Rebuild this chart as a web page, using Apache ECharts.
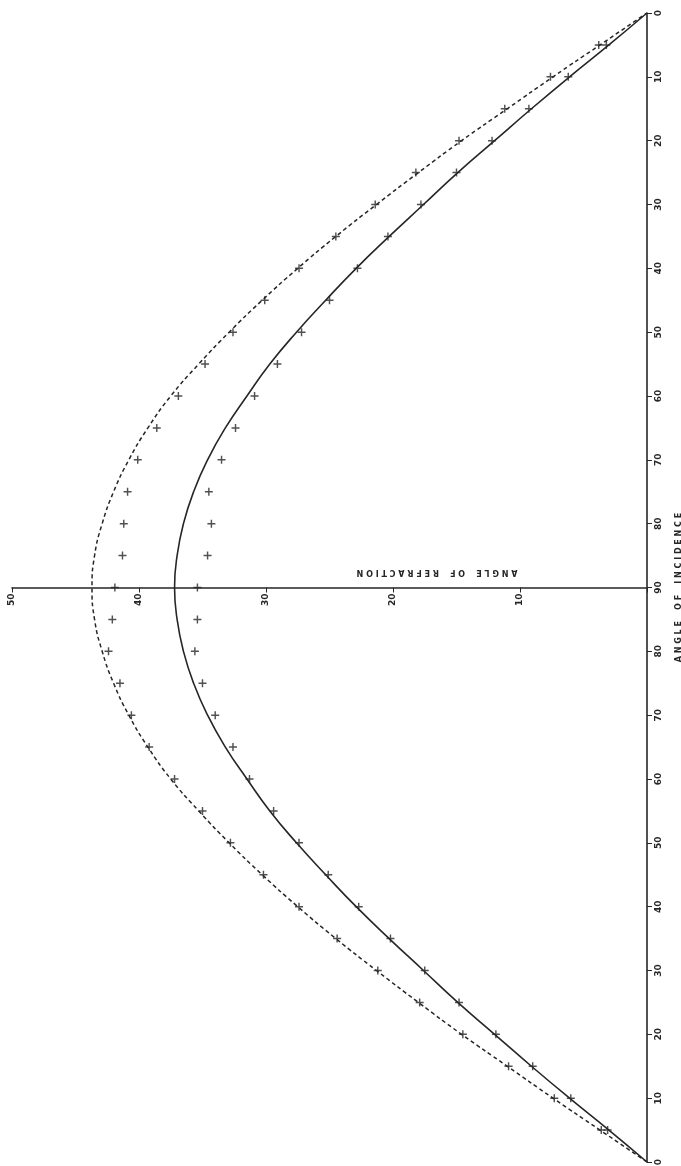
<!DOCTYPE html>
<html>
<head>
<meta charset="utf-8">
<script src="https://cdn.jsdelivr.net/npm/echarts@6/dist/echarts.min.js"></script>
<style>
  html, body { margin: 0; padding: 0; background: #fff; }
  #chart { width: 681px; height: 1166px; }
</style>
</head>
<body>
<div id="chart"></div>
<script>
// angle of incidence, every 5 degrees
const inc = [0, 5, 10, 15, 20, 25, 30, 35, 40, 45, 50, 55, 60, 65, 70, 75, 80, 85, 90];

// drawn curves (angle of refraction)
const solidCurve  = [0, 3.0, 6.1, 9.1, 12.0, 14.9, 17.6, 20.3, 22.9, 25.3, 27.6, 29.7, 31.5, 33.2, 34.6, 35.7, 36.5, 37.0, 37.2];
const dashedCurve = [0, 3.7, 7.4, 11.0, 14.6, 18.0, 21.3, 24.5, 27.5, 30.3, 32.9, 35.3, 37.5, 39.3, 40.8, 42.0, 42.9, 43.5, 43.7];

// observed points, upper half (read top) and lower half
const solidTop  = [null, 3.2, 6.2, 9.3, 12.2, 15.0, 17.8, 20.4, 22.8, 25.0, 27.2, 29.1, 30.9, 32.4, 33.5, 34.5, 34.3, 34.6, 35.4];
const solidBot  = [null, 3.1, 6.0, 9.0, 11.9, 14.8, 17.5, 20.2, 22.7, 25.1, 27.4, 29.4, 31.3, 32.6, 34.0, 35.0, 35.6, 35.4, null];
const dashedTop = [null, 3.8, 7.6, 11.2, 14.8, 18.2, 21.4, 24.5, 27.4, 30.1, 32.6, 34.8, 36.9, 38.6, 40.1, 40.9, 41.2, 41.3, 41.9];
const dashedBot = [null, 3.6, 7.3, 10.9, 14.5, 17.9, 21.2, 24.4, 27.4, 30.2, 32.8, 35.0, 37.2, 39.2, 40.6, 41.5, 42.4, 42.1, null];

const ink = '#262626';
const plus = 'path://M4.1,0h1.8v10h-1.8z M0,4.1h10v1.8h-10z';

// lower half runs 0..90 from the bottom, upper half runs 90..0 to the top
function curve(vals) {
  const lower = inc.map((a, k) => [vals[k], a - 90]);
  const upper = inc.slice(0, -1).map((a, k) => [vals[k], 90 - a]).reverse();
  return lower.concat(upper);
}
function points(vals, upper) {
  return inc.map((a, k) => vals[k] == null ? null : [vals[k], upper ? 90 - a : a - 90]).filter(p => p);
}

const chart = echarts.init(document.getElementById('chart'));
chart.setOption({
  backgroundColor: '#fff',
  animation: false,
  grid: { left: 12, right: 34, top: 13, bottom: 4, outerBoundsMode: 'none' },
  xAxis: {
    type: 'value', min: 0, max: 50, interval: 10, inverse: true,
    position: 'bottom', offset: -574.5,
    axisLine: { onZero: false, lineStyle: { color: ink, width: 1.6 } },
    axisTick: { show: true, length: 5, lineStyle: { color: ink } },
    splitLine: { show: false },
    axisLabel: {
      rotate: 90, fontSize: 9, color: ink, fontFamily: 'DejaVu Sans', fontWeight: 'bold', margin: 6,
      formatter: v => v === 0 ? '' : v
    }
  },
  yAxis: {
    type: 'value', min: -90, max: 90, interval: 10, position: 'right',
    axisLine: { show: true, onZero: false, lineStyle: { color: ink, width: 1.6 } },
    axisTick: { show: true, length: 5, lineStyle: { color: ink } },
    splitLine: { show: false },
    axisLabel: {
      rotate: 90, fontSize: 9, color: ink, fontFamily: 'DejaVu Sans', fontWeight: 'bold', margin: 7,
      formatter: v => 90 - Math.abs(v)
    },
    name: 'A N G L E    O F    I N C I D E N C E',
    nameLocation: 'middle', nameRotate: 90, nameGap: 28,
    nameTextStyle: { fontSize: 8, color: ink, fontFamily: 'DejaVu Sans', fontWeight: 'bold' }
  },
  graphic: [{
    type: 'text', x: 437, y: 572, rotation: Math.PI,
    style: {
      text: 'A N G L E    O F    R E F R A C T I O N',
      fill: ink, font: 'bold 8px "DejaVu Sans"', textAlign: 'center', textVerticalAlign: 'middle'
    }
  }],
  series: [
    { type: 'line', data: curve(solidCurve), smooth: true, showSymbol: false,
      lineStyle: { color: ink, width: 1.6 } },
    { type: 'line', data: curve(dashedCurve), smooth: true, showSymbol: false,
      lineStyle: { color: ink, width: 1.5, type: [4, 3] } },
    { type: 'scatter', data: points(solidTop, true).concat(points(solidBot, false)),
      symbol: plus, symbolSize: 8, itemStyle: { color: ink } },
    { type: 'scatter', data: points(dashedTop, true).concat(points(dashedBot, false)),
      symbol: plus, symbolSize: 8, itemStyle: { color: ink } }
  ]
});
</script>
</body>
</html>
